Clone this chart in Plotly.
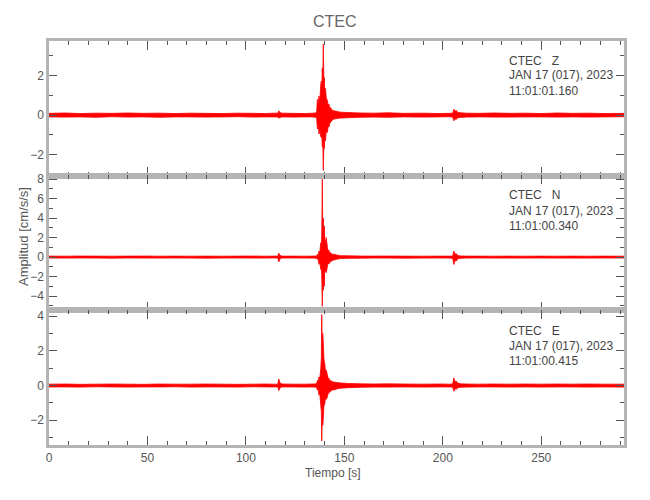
import plotly.graph_objects as go
from plotly.subplots import make_subplots

# ---------------- data (envelopes) ----------------
title_text = "CTEC"
x_label = "Tiempo [s]"
y_label = "Amplitud [cm/s/s]"
x_tick_vals = [0, 50, 100, 150, 200, 250]

# common time knots [s]
t_knots = (
    [0, 8, 16, 24, 32, 40, 48, 56, 64, 72, 80, 88, 96, 104, 110, 114]
    + [116.2, 116.7, 117.2, 118.2]
    + [124, 130, 134, 135.9]
    + [136.3, 136.7, 137.1, 137.5, 138.0, 138.3, 138.5, 138.8, 139.0, 139.3, 139.6, 139.8,
       140.0, 140.4, 140.8, 141.4, 141.8, 142.2, 142.6, 143.0, 143.8, 144.7, 146.5, 148.1]
    + [152, 158, 165, 172, 180, 190, 198, 203]
    + [205.0, 205.6, 206.2, 206.8, 207.6, 209]
    + [212, 218, 226, 234, 242, 250, 258, 266, 274, 282, 292]
)

# Z component: upper / lower envelope [cm/s/s]
z_up = (
    [0.09, 0.11, 0.08, 0.10, 0.09, 0.11, 0.09, 0.10, 0.08, 0.10, 0.09, 0.08, 0.10, 0.09, 0.08, 0.10]
    + [0.10, 0.22, 0.14, 0.10]
    + [0.09, 0.08, 0.10, 0.12]
    + [0.80, 0.50, 0.97, 0.70, 1.55, 1.73, 1.20, 2.40, 1.50, 3.60, 1.60, 1.90,
       1.40, 1.35, 0.90, 0.72, 0.50, 0.55, 0.35, 0.38, 0.25, 0.22, 0.18, 0.15]
    + [0.13, 0.11, 0.10, 0.12, 0.09, 0.10, 0.08, 0.09]
    + [0.10, 0.30, 0.20, 0.24, 0.14, 0.12]
    + [0.10, 0.09, 0.11, 0.09, 0.10, 0.08, 0.11, 0.09, 0.10, 0.08, 0.09]
)
z_lo = (
    [-0.09, -0.10, -0.09, -0.11, -0.08, -0.10, -0.09, -0.11, -0.09, -0.09, -0.10, -0.09, -0.08, -0.10, -0.09, -0.09]
    + [-0.09, -0.16, -0.12, -0.09]
    + [-0.10, -0.09, -0.09, -0.12]
    + [-0.70, -0.45, -0.96, -0.75, -1.10, -1.13, -0.90, -1.60, -1.20, -2.80, -1.40, -1.70,
       -1.30, -1.30, -0.80, -0.88, -0.55, -0.60, -0.40, -0.37, -0.25, -0.20, -0.17, -0.15]
    + [-0.13, -0.11, -0.10, -0.11, -0.09, -0.10, -0.09, -0.08]
    + [-0.10, -0.29, -0.18, -0.22, -0.13, -0.12]
    + [-0.10, -0.09, -0.10, -0.10, -0.09, -0.09, -0.10, -0.09, -0.10, -0.09, -0.08]
)

# N component
n_up = (
    [0.10, 0.09, 0.11, 0.10, 0.09, 0.10, 0.11, 0.09, 0.10, 0.09, 0.10, 0.09, 0.10, 0.11, 0.09, 0.10]
    + [0.10, 0.40, 0.20, 0.10]
    + [0.10, 0.09, 0.10, 0.12]
    + [0.28, 0.20, 0.62, 0.45, 1.47, 1.20, 2.20, 8.00, 2.60, 4.00, 2.00, 3.20,
       2.00, 1.40, 2.00, 0.96, 0.60, 0.70, 0.40, 0.45, 0.30, 0.28, 0.20, 0.15]
    + [0.13, 0.11, 0.10, 0.11, 0.10, 0.09, 0.10, 0.10]
    + [0.10, 0.62, 0.30, 0.35, 0.16, 0.12]
    + [0.10, 0.10, 0.09, 0.10, 0.09, 0.10, 0.09, 0.10, 0.09, 0.10, 0.09]
)
n_lo = (
    [-0.10, -0.10, -0.09, -0.10, -0.11, -0.09, -0.10, -0.10, -0.09, -0.10, -0.11, -0.10, -0.09, -0.10, -0.10, -0.09]
    + [-0.10, -0.50, -0.22, -0.10]
    + [-0.09, -0.10, -0.10, -0.12]
    + [-0.24, -0.20, -0.75, -0.50, -1.27, -1.00, -1.80, -5.05, -2.50, -3.40, -2.00, -3.00,
       -1.60, -1.30, -1.60, -0.93, -0.60, -0.70, -0.45, -0.50, -0.35, -0.30, -0.20, -0.15]
    + [-0.13, -0.11, -0.10, -0.10, -0.11, -0.10, -0.09, -0.10]
    + [-0.12, -0.75, -0.35, -0.40, -0.18, -0.12]
    + [-0.10, -0.09, -0.10, -0.10, -0.10, -0.09, -0.10, -0.10, -0.10, -0.09, -0.10]
)

# E component
e_up = (
    [0.08, 0.09, 0.07, 0.08, 0.09, 0.08, 0.07, 0.09, 0.08, 0.08, 0.09, 0.08, 0.07, 0.08, 0.09, 0.08]
    + [0.08, 0.38, 0.18, 0.09]
    + [0.08, 0.08, 0.09, 0.10]
    + [0.30, 0.22, 0.50, 0.40, 0.97, 1.60, 4.10, 2.20, 3.00, 2.50, 1.60, 1.35,
       1.35, 0.80, 0.90, 0.60, 0.40, 0.42, 0.28, 0.30, 0.22, 0.20, 0.17, 0.15]
    + [0.12, 0.10, 0.09, 0.10, 0.09, 0.08, 0.09, 0.08]
    + [0.09, 0.44, 0.22, 0.25, 0.14, 0.10]
    + [0.09, 0.08, 0.09, 0.08, 0.09, 0.08, 0.09, 0.08, 0.09, 0.08, 0.08]
)
e_lo = (
    [-0.08, -0.08, -0.09, -0.07, -0.08, -0.09, -0.08, -0.08, -0.07, -0.09, -0.08, -0.08, -0.09, -0.07, -0.08, -0.08]
    + [-0.08, -0.29, -0.15, -0.08]
    + [-0.08, -0.09, -0.08, -0.10]
    + [-0.27, -0.22, -0.55, -0.45, -1.12, -1.50, -3.20, -1.80, -2.30, -1.90, -1.20, -1.10,
       -1.10, -0.70, -0.80, -0.65, -0.40, -0.45, -0.30, -0.35, -0.25, -0.25, -0.18, -0.15]
    + [-0.12, -0.10, -0.09, -0.09, -0.08, -0.09, -0.08, -0.08]
    + [-0.09, -0.33, -0.18, -0.22, -0.13, -0.10]
    + [-0.09, -0.08, -0.08, -0.09, -0.08, -0.09, -0.08, -0.08, -0.09, -0.08, -0.09]
)

panel_info = [
    ["CTEC\u00a0\u00a0\u00a0Z", "JAN 17 (017), 2023", "11:01:01.160"],
    ["CTEC\u00a0\u00a0\u00a0N", "JAN 17 (017), 2023", "11:01:00.340"],
    ["CTEC\u00a0\u00a0\u00a0E", "JAN 17 (017), 2023", "11:01:00.415"],
]
y_ranges = [[-3.07, 3.76], [-5.46, 8.35], [-3.43, 4.34]]
x_range = [0, 292]

for arr in (z_up, z_lo, n_up, n_lo, e_up, e_lo):
    assert len(arr) == len(t_knots), (len(arr), len(t_knots))

# ---------------- figure ----------------
# the page body has an 8px margin, so the figure sits at (8, 8) in the window
OFF = 8
W, H = 634, 484
# plot area in window pixels: x 49..624, y 41..445
ML, MR, MT, MB = 49 - OFF, W - (624 - OFF), 41 - OFF, H - (445 - OFF)
PW, PH = W - ML - MR, H - MT - MB

def px_x(px):
    return (px - OFF - ML) / PW

def px_y(py):
    return (H - MB - (py - OFF)) / PH

FONT = "Liberation Sans, Arial, sans-serif"
AXIS_COL = "#b4b4b4"
TICK_COL = "#555555"
TEXT_COL = "#555555"
RED = "#ff0000"

fig = make_subplots(rows=3, cols=1, shared_xaxes=True, vertical_spacing=0)

series = [(z_up, z_lo), (n_up, n_lo), (e_up, e_lo)]
for i, (up, lo) in enumerate(series):
    xs = list(t_knots) + list(t_knots[::-1])
    ys = list(up) + list(lo[::-1])
    fig.add_trace(go.Scatter(x=xs, y=ys, mode="lines", fill="toself",
                             fillcolor=RED, line=dict(color=RED, width=0.8, simplify=False),
                             hoverinfo="skip", showlegend=False), row=i + 1, col=1)

for i in range(3):
    fig.update_xaxes(row=i + 1, col=1, range=x_range, showgrid=False, zeroline=False,
                     automargin=False,
                     showline=True, linecolor=AXIS_COL, linewidth=2.5, mirror="ticks",
                     ticks="inside", ticklen=9, tickwidth=1, tickcolor=TICK_COL,
                     tickvals=x_tick_vals,
                     minor=dict(dtick=10, tick0=0, ticks="inside", ticklen=4, tickwidth=1, tickcolor=TICK_COL),
                     tickfont=dict(family=FONT, size=12, color=TEXT_COL),
                     ticklabelstandoff=0)
    fig.update_yaxes(row=i + 1, col=1, range=y_ranges[i], showgrid=False, zeroline=False,
                     automargin=False,
                     showline=True, linecolor=AXIS_COL, linewidth=2.5, mirror="ticks",
                     ticks="inside", ticklen=8, tickwidth=1, tickcolor=TICK_COL,
                     tick0=0, dtick=2,
                     minor=dict(dtick=1, tick0=0, ticks="inside", ticklen=4, tickwidth=1, tickcolor=TICK_COL),
                     tickfont=dict(family=FONT, size=12, color=TEXT_COL),
                     ticklabelstandoff=0)

annotations = []
line_rows = [[61, 75.5, 90.5], [195, 210.5, 226], [331, 345.5, 360.5]]
for i in range(3):
    for j in range(3):
        annotations.append(dict(text=panel_info[i][j], xref="paper", yref="paper",
                                x=px_x(507), y=px_y(line_rows[i][j]), xanchor="left", yanchor="middle",
                                showarrow=False, font=dict(family=FONT, size=12, color="#444444")))
annotations.append(dict(text=title_text, xref="paper", yref="paper", x=px_x(335), y=px_y(22),
                        xanchor="center", yanchor="middle", showarrow=False,
                        font=dict(family=FONT, size=16, color="#666666")))
annotations.append(dict(text=x_label, xref="paper", yref="paper", x=px_x(333), y=px_y(473),
                        xanchor="center", yanchor="middle", showarrow=False,
                        font=dict(family=FONT, size=12, color=TEXT_COL)))
annotations.append(dict(text=y_label, xref="paper", yref="paper", x=px_x(23), y=px_y(237),
                        xanchor="center", yanchor="middle", showarrow=False, textangle=-90,
                        font=dict(family=FONT, size=13, color=TEXT_COL)))

fig.update_layout(width=W, height=H, margin=dict(l=ML, r=MR, t=MT, b=MB),
                  paper_bgcolor="white", plot_bgcolor="white",
                  annotations=annotations, showlegend=False)

fig.write_html("out.html")
